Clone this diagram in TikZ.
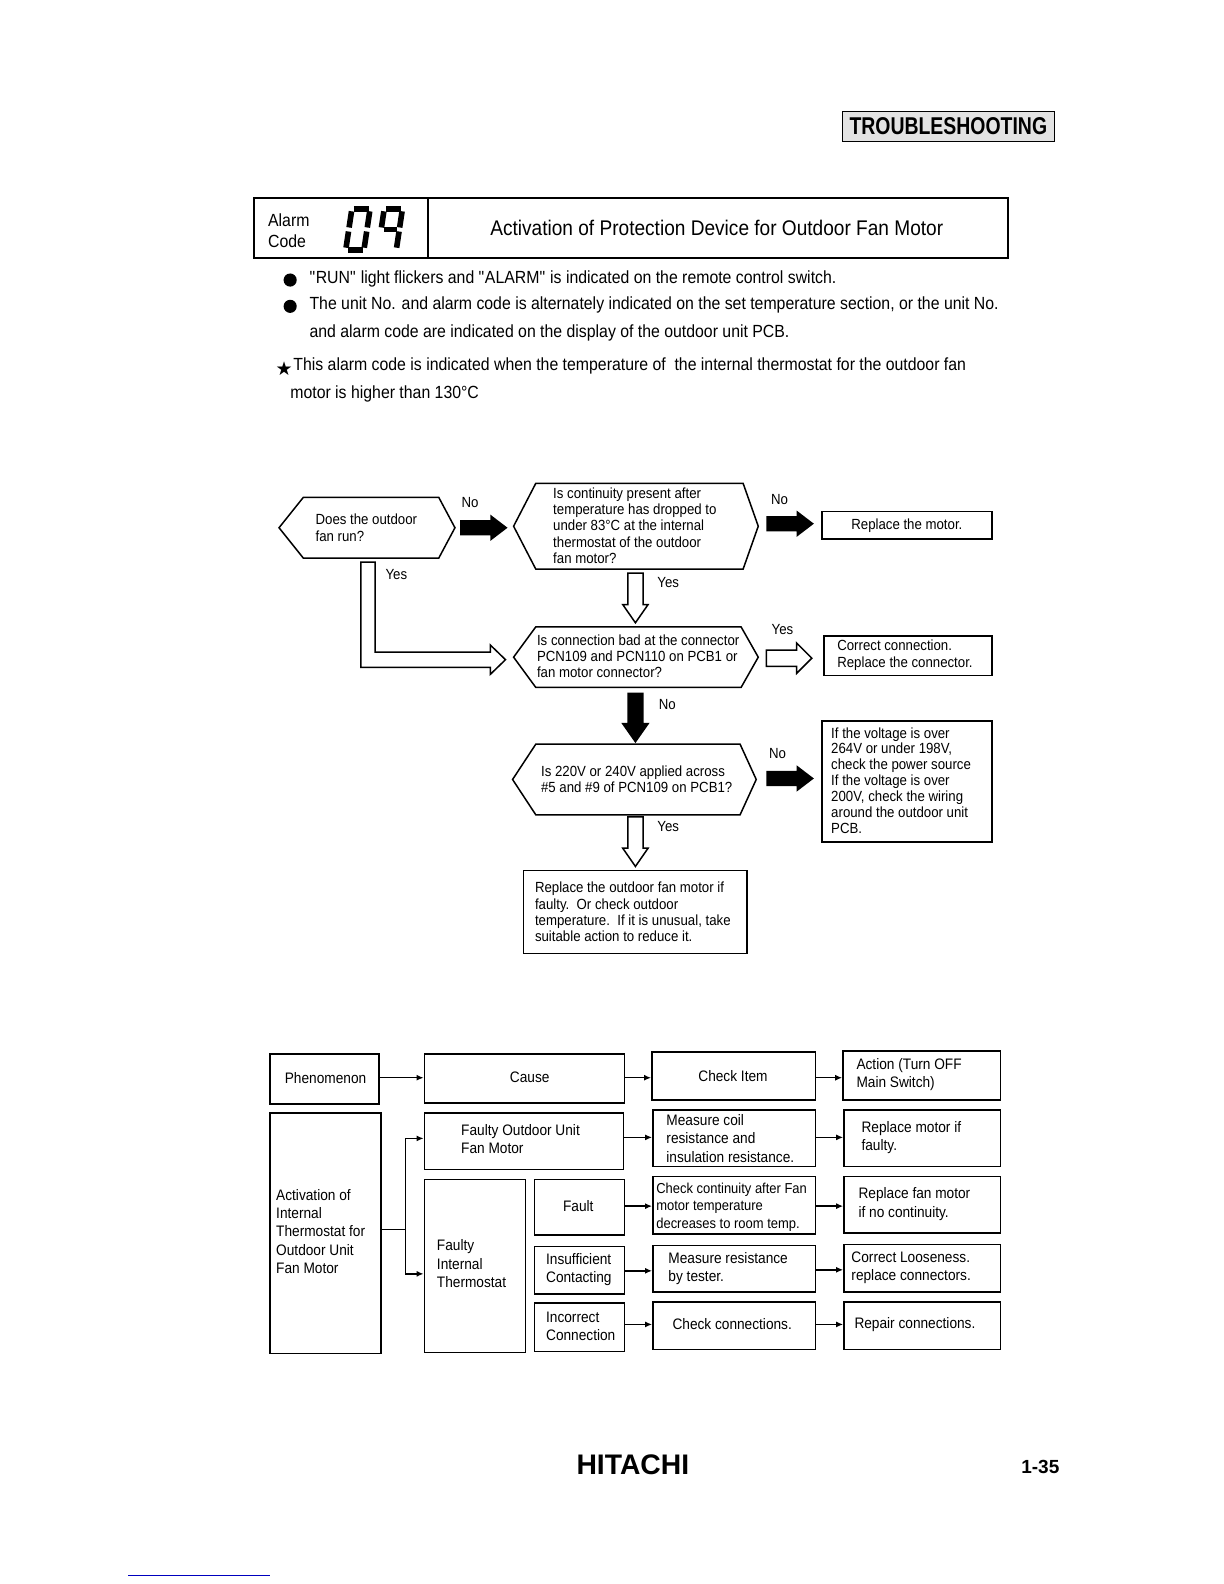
\documentclass[tikz,border=0pt]{standalone}
\usepackage{fontspec}
\setmainfont{Liberation Sans}[FakeStretch=0.9]
\newfontfamily\hdfont{Liberation Sans}[FakeStretch=0.8]
\newfontfamily\plainfont{Liberation Sans}
\newfontfamily\symfont{DejaVu Sans}
\usetikzlibrary{arrows.meta}
\newcommand{\hexpath}[6]{\draw[hexline] (#1,{(#5+#6)/2}) -- (#2,#5) -- (#3,#5) -- (#4,{(#5+#6)/2}) -- (#3,#6) -- (#2,#6) -- cycle;}
\newcommand{\barrowh}[3]{\fill (#1,{#3-7.5}) -- ({#2-17},{#3-7.5}) -- ({#2-17},{#3-13}) -- (#2,#3) -- ({#2-17},{#3+13}) -- ({#2-17},{#3+7.5}) -- (#1,{#3+7.5}) -- cycle;}
\newcommand{\harrowh}[3]{\draw[harr] (#1,{#3-8}) -- ({#2-15},{#3-8}) -- ({#2-15},{#3-15}) -- (#2,#3) -- ({#2-15},{#3+15}) -- ({#2-15},{#3+8}) -- (#1,{#3+8}) -- cycle;}
\newcommand{\harrowv}[3]{\draw[harr] ({#1-7.5},#2) -- ({#1+7.5},#2) -- ({#1+7.5},{#3-18}) -- ({#1+12.5},{#3-18}) -- (#1,#3) -- ({#1-12.5},{#3-18}) -- ({#1-7.5},{#3-18}) -- cycle;}
\newcommand{\barrowv}[3]{\fill ({#1-8},#2) -- ({#1+8},#2) -- ({#1+8},{#3-20}) -- ({#1+14},{#3-20}) -- (#1,#3) -- ({#1-14},{#3-20}) -- ({#1-8},{#3-20}) -- cycle;}
\newcommand{\tbx}[5]{\node[tbox, anchor=north west, inner sep=0pt, minimum width={(#4-#2)*1.011pt}, minimum height={(#5-#3)*1.011pt}] (#1) at (#2,#3) {};}
\begin{document}
\begin{tikzpicture}[x=1.011pt,y=-1.011pt,
  fc/.style={font=\fontsize{14.7}{16.2}\selectfont, align=left, inner sep=0pt, anchor=west},
  tt/.style={font=\fontsize{15.2}{18.2}\selectfont, align=left, inner sep=0pt, anchor=west},
  bt/.style={font=\fontsize{17.6}{20}\selectfont, inner sep=0pt, anchor=west},
  lab/.style={font=\fontsize{14.7}{16}\selectfont, inner sep=0pt},
  hexline/.style={line width=1.5pt, line join=miter},
  fbox/.style={draw, line width=1.5pt},
  tbox/.style={draw, line width=1.6pt},
  tarr/.style={line width=1.5pt, -{Latex[length=7pt,width=6pt]}},
  tline/.style={line width=1.5pt},
  segm/.style={line width=5.6pt},
  harr/.style={line width=1.5pt, fill=white, line join=miter},
]
\useasboundingbox (0,0) rectangle (1210.68,1566.77);
\fill[white] (0,0) rectangle (1210.68,1566.77);

% ---------- header ----------
\node[draw, line width=1.2pt, fill=gray!22, minimum width=212pt, minimum height=30pt, inner sep=0pt,
      font=\hdfont\bfseries\fontsize{24.3}{26}\selectfont] (trb) at (938,125) {TROUBLESHOOTING};

\draw[line width=2pt] (251,196) rectangle (997,255);
\draw[line width=2pt] (423,196) -- (423,255);
\node[bt] (alarm) at (265,218) {Alarm};
\node[bt] (code) at (265,239) {Code};
% seven segment "09"
\draw[segm] (350,207) -- (365,207);
\draw[segm] (345.3,225) -- (347.7,209);
\draw[segm] (363.3,225) -- (365.7,209);
\draw[segm] (342.3,245) -- (344.7,229);
\draw[segm] (360.3,245) -- (362.7,229);
\draw[segm] (344,247) -- (359,247);
\draw[segm] (382,207) -- (397,207);
\draw[segm] (377.3,225) -- (379.7,209);
\draw[segm] (395.3,225) -- (397.7,209);
\draw[segm] (380,227) -- (393,227);
\draw[segm] (392.3,245) -- (394.7,229);
\node[font=\fontsize{21.2}{24}\selectfont, inner sep=0pt] (title) at (709,225) {Activation of Protection Device for Outdoor Fan Motor};

\fill (287,277) circle (6.5);
\fill (287,303) circle (6.5);
\node[bt] (b1) at (306,276) {\textquotedbl RUN\textquotedbl\ light flickers and \textquotedbl ALARM\textquotedbl\ is indicated on the remote control switch.};
\node[bt] (b2) at (306,302) {The unit No. and alarm code is alternately indicated on the set temperature section, or the unit No.};
\node[bt] (b3) at (306,329) {and alarm code are indicated on the display of the outdoor unit PCB.};
\node[font=\symfont\fontsize{19}{20}\selectfont, inner sep=0pt] (star) at (281,365) {★};
\node[bt] (s1) at (290,362) {This alarm code is indicated when the temperature of\ \ the internal thermostat for the outdoor fan};
\node[bt] (s2) at (287,390) {motor is higher than 130°C};

% ---------- flowchart ----------
\hexpath{276}{300}{434}{450}{492}{552}
\node[fc] (d1) at (312,522) {Does the outdoor\\fan run?};

\barrowh{455}{502}{522}
\node[lab] (no1) at (465,497) {No};

\hexpath{508}{530}{735}{750}{478}{563}
\node[fc] (d2) at (547,520) {Is continuity present after\\temperature has dropped to\\under 83°C at the internal\\thermostat of the outdoor\\fan motor?};

\barrowh{758}{805}{518}
\node[lab] (no2) at (771,494) {No};
\node[fbox, minimum width=170pt, minimum height=27.3pt, inner sep=0pt, font=\fontsize{14.7}{16}\selectfont] (rm) at (897,519.5) {Replace the motor.};

% Yes L arrow
\draw[harr] (357,556) -- (357,660) -- (485,660) -- (485,667) -- (500,652.5) -- (485,638) -- (485,645) -- (371,645) -- (371,556) -- cycle;
\node[lab] (yes1) at (392,568) {Yes};

\harrowv{628.5}{567}{616}
\node[lab] (yes2) at (661,576) {Yes};

\hexpath{508}{530}{733}{750}{620}{680}
\node[fc] (d3) at (531,649) {Is connection bad at the connector\\PCN109 and PCN110 on PCB1 or\\fan motor connector?};

\harrowh{758}{803}{651}
\node[lab] (yes3) at (774,623) {Yes};
\draw[fbox] (815,629) rectangle (981,668);
\node[fc] (cc) at (828,648) {Correct connection.\\Replace the connector.};

\barrowv{628.5}{685}{735}
\node[lab] (no3) at (660,697) {No};

\hexpath{507}{530}{732}{748}{736}{806}
\node[fc] (d4) at (535,771) {Is 220V or 240V applied across\\\#5 and \#9 of PCN109 on PCB1?};

\barrowh{758}{805}{770}
\node[lab] (no4) at (769,745) {No};
\draw[fbox] (813,713) rectangle (981,833);
\node[fc, font=\fontsize{14.7}{15.9}\selectfont] (vb) at (822,772) {If the voltage is over\\264V or under 198V,\\check the power source\\If the voltage is over\\200V, check the wiring\\around the outdoor unit\\PCB.};

\harrowv{628.5}{808}{857}
\node[lab] (yes4) at (661,818) {Yes};
\draw[fbox] (518,861) rectangle (739,943);
\node[fc] (fin) at (529,902) {Replace the outdoor fan motor if\\faulty.\ \ Or check outdoor\\temperature.\ \ If it is unusual, take\\suitable action to reduce it.};

% ---------- table ----------
\tbx{phen}{266}{1042}{374}{1091}
\tbx{cause}{419}{1042}{617}{1090}
\tbx{chk}{644}{1040}{806}{1087}
\tbx{act}{833}{1039}{989}{1087}
\node[tt, anchor=center] at (322,1066) {Phenomenon};
\node[tt, anchor=center] at (524,1066) {Cause};
\node[tt, anchor=center] at (725,1064) {Check Item};
\node[tt] at (847,1063) {Action (Turn OFF\\Main Switch)};

\tbx{actv}{266}{1100}{376}{1338}
\tbx{fom}{419}{1100}{616}{1156}
\tbx{fit}{419}{1166}{519}{1337}
\tbx{flt}{528}{1166}{617}{1221}
\tbx{ins}{528}{1232}{617}{1279}
\tbx{inc}{528}{1288}{617}{1336}
\tbx{c1}{645}{1097}{806}{1153}
\tbx{c2}{645}{1163}{806}{1220}
\tbx{c3}{645}{1231}{806}{1277}
\tbx{c4}{645}{1287}{806}{1334}
\tbx{a1}{834}{1097}{989}{1153}
\tbx{a2}{834}{1163}{989}{1219}
\tbx{a3}{834}{1230}{989}{1277}
\tbx{a4}{834}{1287}{989}{1334}

\node[tt] at (273,1218) {Activation of\\Internal\\Thermostat for\\Outdoor Unit\\Fan Motor};
\node[tt] at (456,1127) {Faulty Outdoor Unit\\Fan Motor};
\node[tt] at (432,1250) {Faulty\\Internal\\Thermostat};
\node[tt, anchor=center] at (572,1193) {Fault};
\node[tt] at (540,1256) {Insufficient\\Contacting};
\node[tt] at (540,1312) {Incorrect\\Connection};
\node[tt] at (659,1126) {Measure coil\\resistance and\\insulation resistance.};
\node[tt, font=\fontsize{14.4}{17.2}\selectfont] at (649,1194) {Check continuity after Fan\\motor temperature\\decreases to room temp.};
\node[tt] at (661,1255) {Measure resistance\\by tester.};
\node[tt] at (665,1310) {Check connections.};
\node[tt] at (852,1125) {Replace motor if\\faulty.};
\node[tt] at (849,1191) {Replace fan motor\\if no continuity.};
\node[tt] at (842,1254) {Correct Looseness.\\replace connectors.};
\node[tt] at (845,1310) {Repair connections.};

\draw[tarr] (phen.east |- 0,1066) -- (cause.west |- 0,1066);
\draw[tarr] (cause.east |- 0,1066) -- (chk.west |- 0,1066);
\draw[tarr] (chk.east |- 0,1066) -- (act.west |- 0,1066);

\coordinate (sp) at (401,1216);
\coordinate (spt) at (401,1126);
\coordinate (spb) at (401,1260);
\draw[tline] (actv.east |- sp) -- (sp);
\draw[tline] (spt) -- (spb);
\draw[tarr] (spt) -- (fom.west |- spt);
\draw[tarr] (spb) -- (fit.west |- spb);

\draw[tarr] (fom.east |- 0,1125) -- (c1.west |- 0,1125);
\draw[tarr] (flt.east |- 0,1193) -- (c2.west |- 0,1193);
\draw[tarr] (ins.east |- 0,1257) -- (c3.west |- 0,1257);
\draw[tarr] (inc.east |- 0,1310) -- (c4.west |- 0,1310);
\draw[tarr] (c1.east |- 0,1125) -- (a1.west |- 0,1125);
\draw[tarr] (c2.east |- 0,1193) -- (a2.west |- 0,1193);
\draw[tarr] (c3.east |- 0,1256) -- (a3.west |- 0,1256);
\draw[tarr] (c4.east |- 0,1310) -- (a4.west |- 0,1310);

% ---------- footer ----------
\node[font=\plainfont\bfseries\fontsize{28.3}{30}\selectfont, inner sep=0pt] (hit) at (626,1449) {HITACHI};
\node[font=\plainfont\bfseries\fontsize{19}{21}\selectfont, inner sep=0pt, anchor=west] (pg) at (1010,1451) {1-35};
\draw[blue!75!black, line width=1.2pt] (127,1558) -- (267,1558);
\end{tikzpicture}
\end{document}
